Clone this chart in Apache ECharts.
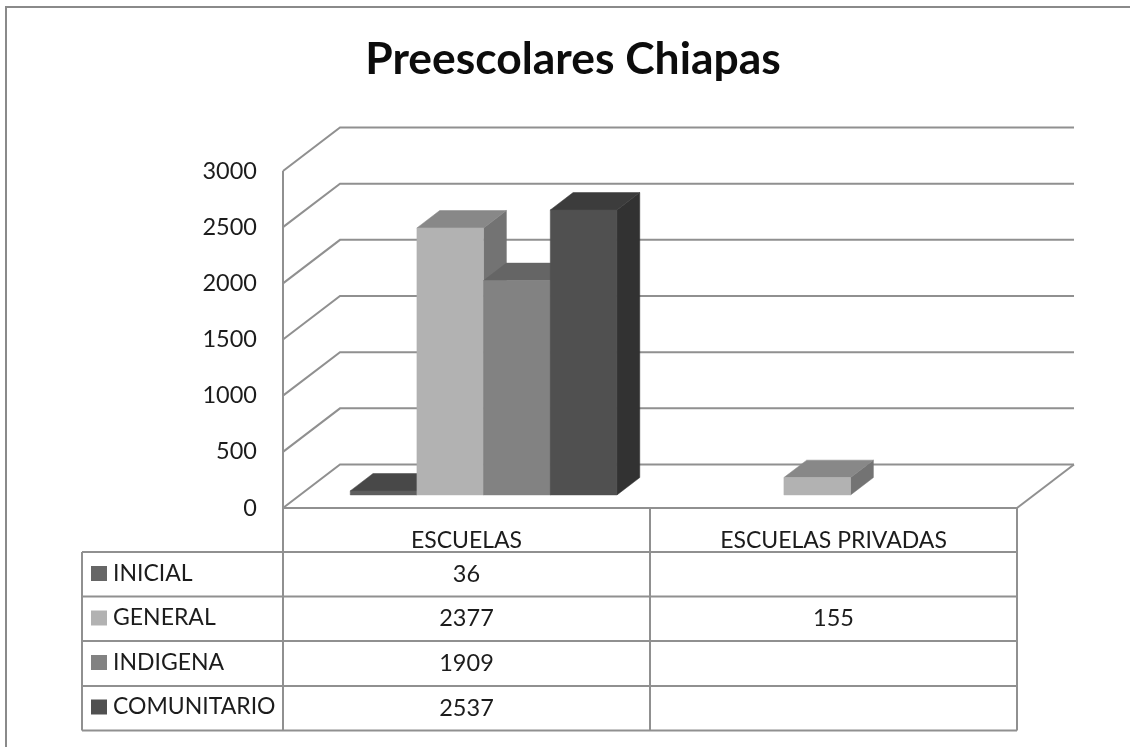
<!DOCTYPE html>
<html><head><meta charset="utf-8">
<style>html,body{margin:0;padding:0;background:#fff}#c{width:1130px;height:747px}</style>
<script src="https://cdn.jsdelivr.net/npm/echarts@6/dist/echarts.min.js"></script>
</head><body><div id="c"></div>
<script>
const categories = ['ESCUELAS', 'ESCUELAS PRIVADAS'];
const seriesNames = ['INICIAL', 'GENERAL', 'INDIGENA', 'COMUNITARIO'];
const inicial = [36, null];
const general = [2377, 155];
const indigena = [1909, null];
const comunitario = [2537, null];
const yTicks = [0, 500, 1000, 1500, 2000, 2500, 3000];
const yMax = 3000, yStep = 500;
const font = 'Lato, "Open Sans", sans-serif';
const lineCol = '#909090', textCol = '#1c1c1c';

const seriesValues = [inicial, general, indigena, comunitario];
const faceColors = [
  {front:'#5e5e5e', top:'#484848', side:'#3e3e3e', swatch:'#666666'},
  {front:'#b2b2b2', top:'#888888', side:'#737373', swatch:'#b2b2b2'},
  {front:'#828282', top:'#656565', side:'#585858', swatch:'#828282'},
  {front:'#505050', top:'#3c3c3c', side:'#323232', swatch:'#505050'}
];
// 3D projection of the chart box, in px
const depth = {dx:57, dy:-43.5};
const barNear = 0.3, barFar = 0.7;
// table geometry
const rowLines = [508, 552, 596.5, 641, 686, 730.5];
const tableLeft = 82;

const chart = echarts.init(document.getElementById('c'), null, {renderer:'canvas'});
const poly = (pts, fill) => ({type:'polygon', shape:{points:pts}, style:{fill, stroke:fill, lineWidth:0.5}});

function barRender(si){
  return function(params, api){
    const v = api.value(1);
    if (v == null || isNaN(v)) return {type:'group', children:[]};
    const cat = api.value(0);
    const c = faceColors[si];
    const band = api.size([1,0])[0];
    const w = band * 0.1817;
    const base = api.coord([cat, 0]);
    const top = api.coord([cat, v]);
    const x0 = base[0] + depth.dx*barNear + (si-2)*w;
    const x1 = x0 + w;
    const nx = depth.dy*barNear;
    const ddx = depth.dx*(barFar-barNear), ddy = depth.dy*(barFar-barNear);
    const yb = base[1] + nx, yt = top[1] + nx;
    return {type:'group', children:[
      poly([[x1,yt],[x1+ddx,yt+ddy],[x1+ddx,yb+ddy],[x1,yb]], c.side),
      poly([[x0,yt],[x0+ddx,yt+ddy],[x1+ddx,yt+ddy],[x1,yt]], c.top),
      poly([[x0,yt],[x1,yt],[x1,yb],[x0,yb]], c.front),
      {type:'text', style:{x:base[0], y:(rowLines[si+1]+rowLines[si+2])/2, text:String(v), fill:textCol,
        font:'23.5px '+font, align:'center', verticalAlign:'middle'}}
    ]};
  };
}

function wallRender(params, api){
  const t = api.value(0);
  const a = api.coord([0, t]);
  const leftX = a[0] - api.size([1,0])[0]/2;
  const rightX = leftX + api.size([1,0])[0]*2;
  const s = {stroke:lineCol, lineWidth:2, fill:'none'};
  const y = a[1];
  const ch = [{type:'polyline', shape:{points:[[leftX,y],[leftX+depth.dx,y+depth.dy],[rightX+depth.dx,y+depth.dy]]}, style:s}];
  if (t === 0) ch.push({type:'polyline', shape:{points:[[rightX,y],[rightX+depth.dx,y+depth.dy]]}, style:s});
  return {type:'group', children:ch};
}

function tableRender(params, api){
  const a = api.coord([0, 0]);
  const bw = api.size([1,0])[0];
  const L = a[0]-bw/2, M = L+bw, R = L+2*bw;
  const s = {stroke:lineCol, lineWidth:2, fill:'none'};
  const ch = [];
  rowLines.forEach((y,i)=>{
    ch.push({type:'line', shape:{x1:i===0?L:tableLeft, y1:y, x2:R, y2:y}, style:s});
  });
  ch.push({type:'line', shape:{x1:tableLeft, y1:rowLines[1], x2:tableLeft, y2:rowLines[5]}, style:s});
  [L,M,R].forEach(x=>ch.push({type:'line', shape:{x1:x, y1:a[1], x2:x, y2:rowLines[5]}, style:s}));
  ch.push({type:'line', shape:{x1:L, y1:api.coord([0,yMax])[1], x2:L, y2:a[1]}, style:s});
  return {type:'group', children:ch};
}

const option = {
  backgroundColor:'#fff',
  animation:false,
  title:{text:'Preescolares Chiapas', left:568, top:33, textAlign:'center',
    textStyle:{fontFamily:font, fontWeight:'bold', fontSize:44.4, color:'#0c0c0c'}},
  graphic:[{type:'polyline', silent:true, shape:{points:[[6,747],[6,7],[1130,7]]},
    style:{stroke:'#8a8a8a', lineWidth:2, fill:'none'}}],
  grid:{left:283, right:113, top:171, bottom:239, containLabel:false},
  legend:{orient:'vertical', left:91, top:562, padding:0, itemWidth:16, itemHeight:15, itemGap:21.5, icon:'rect',
    selectedMode:false, data:seriesNames, textStyle:{fontFamily:font, fontSize:23, lineHeight:23, color:textCol, padding:[0,0,0,1]}},
  xAxis:{type:'category', data:categories, axisLine:{show:false}, axisTick:{show:false},
    axisLabel:{fontFamily:font, fontSize:23, color:textCol, margin:21}},
  yAxis:{type:'value', min:0, max:yMax, interval:yStep, axisLine:{show:false}, axisTick:{show:false},
    splitLine:{show:false}, axisLabel:{fontFamily:font, fontSize:23.5, color:textCol, margin:26,
      padding:[4,0,0,0], formatter:(v)=>String(v)}},
  series:[
    {type:'custom', name:'wall', silent:true, z:1, clip:false, renderItem:wallRender, encode:{x:-1,y:-1},
      data:yTicks.map(t=>[t])},
    {type:'custom', name:'table', silent:true, z:1, clip:false, renderItem:tableRender, encode:{x:-1,y:-1}, data:[[0]]},
    ...seriesNames.map((n,i)=>({type:'custom', name:n, z:2+i, clip:false, renderItem:barRender(i),
      itemStyle:{color:faceColors[i].swatch}, encode:{x:0,y:1},
      data:categories.map((c,k)=>[k, seriesValues[i][k]])}))
  ]
};
chart.setOption(option);
</script></body></html>
